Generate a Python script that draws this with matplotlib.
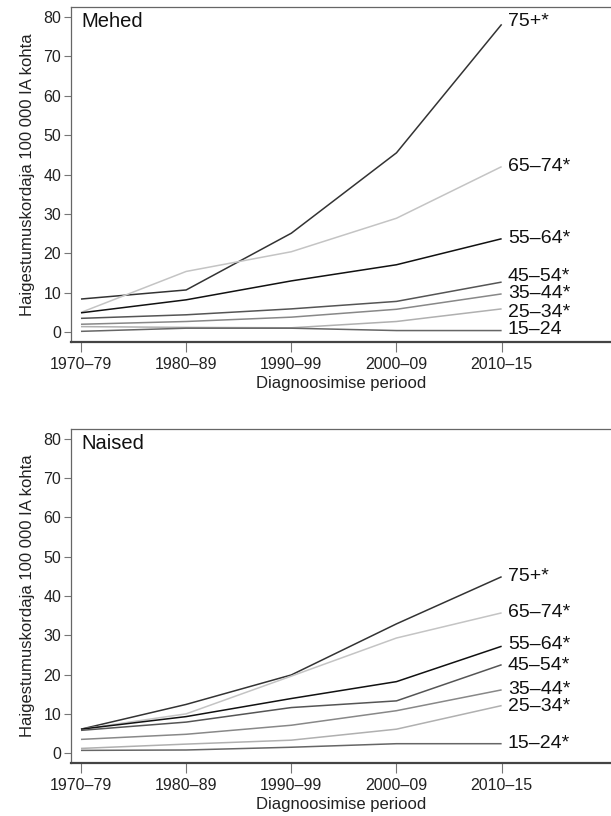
import matplotlib
matplotlib.use('Agg')
import matplotlib.pyplot as plt

plt.rcParams['font.family'] = ['Liberation Sans', 'DejaVu Sans']

# Diagnosis periods
periods = ['1970–79', '1980–89', '1990–99', '2000–09', '2010–15']

# Age groups (label text as shown in each panel)
groups_men = ['75+*', '65–74*', '55–64*', '45–54*', '35–44*', '25–34*', '15–24']
groups_women = ['75+*', '65–74*', '55–64*', '45–54*', '35–44*', '25–34*', '15–24*']

# Incidence per 100 000 person-years, men
men_75 = [8.4, 10.7, 25.1, 45.5, 78.1]
men_65 = [5.0, 15.4, 20.4, 28.9, 42.0]
men_55 = [4.9, 8.2, 13.0, 17.1, 23.7]
men_45 = [3.5, 4.4, 5.9, 7.8, 12.7]
men_35 = [2.0, 2.7, 3.8, 5.8, 9.7]
men_25 = [1.4, 1.2, 1.1, 2.7, 5.9]
men_15 = [0.2, 1.0, 1.0, 0.4, 0.4]

# Incidence per 100 000 person-years, women
women_75 = [6.1, 12.4, 19.9, 32.9, 44.9]
women_65 = [6.1, 10.0, 19.6, 29.3, 35.7]
women_55 = [6.1, 9.3, 13.9, 18.2, 27.2]
women_45 = [5.8, 7.9, 11.6, 13.3, 22.5]
women_35 = [3.5, 4.8, 7.1, 10.8, 16.1]
women_25 = [1.2, 2.3, 3.3, 6.1, 12.1]
women_15 = [0.7, 0.8, 1.5, 2.4, 2.4]

men = [men_75, men_65, men_55, men_45, men_35, men_25, men_15]
women = [women_75, women_65, women_55, women_45, women_35, women_25, women_15]

colors = ['#333333', '#c4c4c4', '#111111', '#555555', '#888888', '#b0b0b0', '#666666']

# label nudges (in data units) to keep end labels apart
men_label_shift = [0.8, 0, 0, 1.4, 0.2, -0.9, 0.2]
women_label_shift = [0, 0, 0.4, -0.3, 0.2, -0.2, 0]

fig = plt.figure(figsize=(6.11, 8.16), dpi=100)
ax_top = fig.add_axes([0.1162, 0.5809, 0.8838, 0.4105])
ax_bot = fig.add_axes([0.1162, 0.0650, 0.8838, 0.4093])


def draw_panel(ax, series, labels, shifts, title):
    x = list(range(len(periods)))
    for vals, lab, col, sh in zip(series, labels, colors, shifts):
        ax.plot(x, vals, color=col, lw=1.1, solid_capstyle='butt')
        ax.text(x[-1] + 0.06, vals[-1] + sh, lab, fontsize=14,
                va='center', ha='left', color='#111111')
    ax.set_xlim(-0.095, 5.04)
    ax.set_ylim(-2.5, 82.5)
    ax.set_xticks(x)
    ax.set_xticklabels(periods)
    ax.set_yticks(range(0, 81, 10))
    ax.tick_params(axis='both', labelsize=11.5, colors='#777777',
                   labelcolor='#222222', width=0.8)
    ax.tick_params(axis='y', length=5, pad=2)
    ax.tick_params(axis='x', length=7, pad=4)
    ax.spines['right'].set_visible(False)
    for s in ['left', 'top']:
        ax.spines[s].set_color('#666666')
        ax.spines[s].set_linewidth(0.9)
    ax.spines['bottom'].set_color('#444444')
    ax.spines['bottom'].set_linewidth(1.6)
    ax.text(0.02, 0.985, title, transform=ax.transAxes, fontsize=14.5,
            va='top', ha='left', color='#111111')
    ax.set_ylabel('Haigestumuskordaja 100 000 IA kohta', fontsize=12,
                  color='#222222', labelpad=6)
    ax.set_xlabel('Diagnoosimise periood', fontsize=12, color='#222222',
                  labelpad=3)


draw_panel(ax_top, men, groups_men, men_label_shift, 'Mehed')
draw_panel(ax_bot, women, groups_women, women_label_shift, 'Naised')

fig.savefig('out.png', dpi=100)
